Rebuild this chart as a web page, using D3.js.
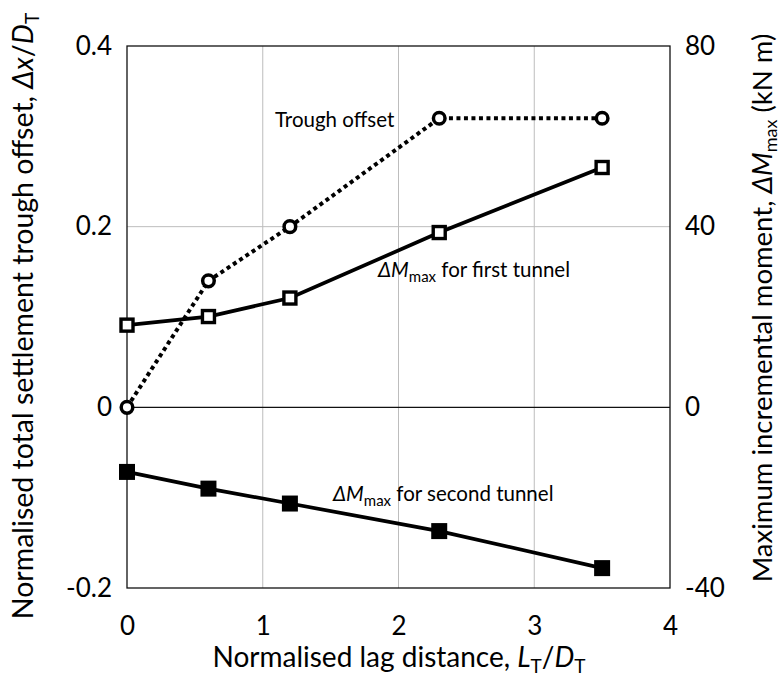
<!DOCTYPE html>
<html>
<head>
    <meta charset="utf-8">
    <script src="https://d3js.org/d3.v7.min.js"></script>
    <style>
        body { margin: 0; background: #fff; }
        text { font-family: Lato, "Open Sans", sans-serif; fill: #000; }
    </style>
</head>
<body>
    <svg id="chart"></svg>
    <script>
        // lag distance L_T/D_T
        const lag = [0, 0.6, 1.2, 2.3, 3.5];
        // normalised trough offset (left axis)
        const troughOffset = [0, 0.14, 0.2, 0.32, 0.32];
        // incremental moment, kN m (right axis)
        const mFirst = [18.2, 20.1, 24.2, 38.7, 53.1];
        const mSecond = [-14.3, -18.0, -21.3, -27.4, -35.6];

        const xTicks = [0, 1, 2, 3, 4];
        const yTicks = [-0.2, 0, 0.2, 0.4];
        const yRTicks = [-40, 0, 40, 80];

        const W = 782, H = 680;
        const pL = 127, pR = 670, pT = 46, pB = 588;

        const svg = d3.select('#chart').attr('width', W).attr('height', H);

        const x = d3.scaleLinear().domain([0, 4]).range([pL, pR]);
        const y = d3.scaleLinear().domain([-0.2, 0.4]).range([pB, pT]);
        const yR = d3.scaleLinear().domain([-40, 80]).range([pB, pT]);

        // grid
        svg.append('g').selectAll('line')
            .data([1, 2, 3]).join('line')
            .attr('x1', d => x(d)).attr('x2', d => x(d))
            .attr('y1', pT).attr('y2', pB)
            .attr('stroke', '#bdbdbd').attr('stroke-width', 1);
        svg.append('line')
            .attr('x1', pL).attr('x2', pR)
            .attr('y1', y(0.2)).attr('y2', y(0.2))
            .attr('stroke', '#bdbdbd').attr('stroke-width', 1);
        svg.append('line')
            .attr('x1', pL).attr('x2', pR)
            .attr('y1', y(0)).attr('y2', y(0))
            .attr('stroke', '#111').attr('stroke-width', 1.3);

        // frame
        svg.append('rect')
            .attr('x', pL).attr('y', pT)
            .attr('width', pR - pL).attr('height', pB - pT)
            .attr('fill', 'none').attr('stroke', '#111').attr('stroke-width', 1.3);

        // axes (labels only)
        const hy = s => s.replace('\u2212', '-');
        const fmtL = d => d === 0 ? '0' : hy(d3.format('.1f')(d));
        const fmtI = d => hy(d3.format('d')(d));
        const gx = svg.append('g').attr('transform', `translate(0,${pB})`)
            .call(d3.axisBottom(x).tickValues(xTicks).tickSize(0).tickFormat(fmtI));
        gx.selectAll('text').attr('y', 47).attr('dy', 0);
        const gy = svg.append('g').attr('transform', `translate(${pL},0)`)
            .call(d3.axisLeft(y).tickValues(yTicks).tickSize(0).tickPadding(15).tickFormat(fmtL));
        const gyR = svg.append('g').attr('transform', `translate(${pR},0)`)
            .call(d3.axisRight(yR).tickValues(yRTicks).tickSize(0).tickPadding(15).tickFormat(fmtI));
        [gx, gy, gyR].forEach(g => {
            g.select('.domain').remove();
            g.selectAll('text').attr('font-size', 26).attr('font-family', 'Lato, sans-serif').attr('fill', '#000');
        });

        // lines
        const lineL = d3.line().x((d, i) => x(lag[i])).y(d => y(d));
        const lineR = d3.line().x((d, i) => x(lag[i])).y(d => yR(d));

        svg.append('path').datum(troughOffset).attr('d', lineL)
            .attr('fill', 'none').attr('stroke', '#000').attr('stroke-width', 4)
            .attr('stroke-dasharray', '4,3.5');
        svg.append('path').datum(mFirst).attr('d', lineR)
            .attr('fill', 'none').attr('stroke', '#000').attr('stroke-width', 3.7);
        svg.append('path').datum(mSecond).attr('d', lineR)
            .attr('fill', 'none').attr('stroke', '#000').attr('stroke-width', 3.7);

        // markers
        svg.append('g').selectAll('circle')
            .data(troughOffset).join('circle')
            .attr('cx', (d, i) => x(lag[i])).attr('cy', d => y(d))
            .attr('r', 5.8).attr('fill', '#fff').attr('stroke', '#000').attr('stroke-width', 3.5);
        svg.append('g').selectAll('rect')
            .data(mFirst).join('rect')
            .attr('x', (d, i) => x(lag[i]) - 6).attr('y', d => yR(d) - 6)
            .attr('width', 12).attr('height', 12)
            .attr('fill', '#fff').attr('stroke', '#000').attr('stroke-width', 3.4);
        svg.append('g').selectAll('rect')
            .data(mSecond).join('rect')
            .attr('x', (d, i) => x(lag[i]) - 8).attr('y', d => yR(d) - 8)
            .attr('width', 16).attr('height', 16)
            .attr('fill', '#000');

        // annotations
        svg.append('text').attr('x', 275).attr('y', 127)
            .attr('font-size', 20.5).text('Trough offset');

        function mLabel(xp, yp, rest) {
            const t = svg.append('text').attr('x', xp).attr('y', yp).attr('font-size', 20.5);
            t.append('tspan').attr('font-style', 'italic').text('\u0394M');
            t.append('tspan').attr('font-size', 15).attr('dy', 5).text('max');
            t.append('tspan').attr('dy', -5).text(' ' + rest);
        }
        mLabel(378, 277, 'for first tunnel');
        mLabel(333, 501, 'for second tunnel');

        // axis titles
        const xt = svg.append('text').attr('x', 399).attr('y', 667)
            .attr('text-anchor', 'middle').attr('font-size', 28);
        xt.append('tspan').text('Normalised lag distance, ');
        xt.append('tspan').attr('font-style', 'italic').text('L');
        xt.append('tspan').attr('font-size', 19).attr('dy', 6).text('T');
        xt.append('tspan').attr('dy', -6).text('/');
        xt.append('tspan').attr('font-style', 'italic').text('D');
        xt.append('tspan').attr('font-size', 19).attr('dy', 6).text('T');

        const yt = svg.append('text')
            .attr('transform', 'translate(33,316) rotate(-90)')
            .attr('text-anchor', 'middle').attr('font-size', 28.5);
        yt.append('tspan').text('Normalised total settlement trough offset, ');
        yt.append('tspan').attr('font-style', 'italic').text('\u0394x');
        yt.append('tspan').text('/');
        yt.append('tspan').attr('font-style', 'italic').text('D');
        yt.append('tspan').attr('font-size', 19).attr('dy', 6).text('T');

        const yrt = svg.append('text')
            .attr('transform', 'translate(772,308) rotate(-90)')
            .attr('text-anchor', 'middle').attr('font-size', 27.5);
        yrt.append('tspan').text('Maximum incremental moment, ');
        yrt.append('tspan').attr('font-style', 'italic').text('\u0394M');
        yrt.append('tspan').attr('font-size', 18).attr('dy', 5).text('max');
        yrt.append('tspan').attr('dy', -5).text(' (kN m)');
    </script>
</body>
</html>
